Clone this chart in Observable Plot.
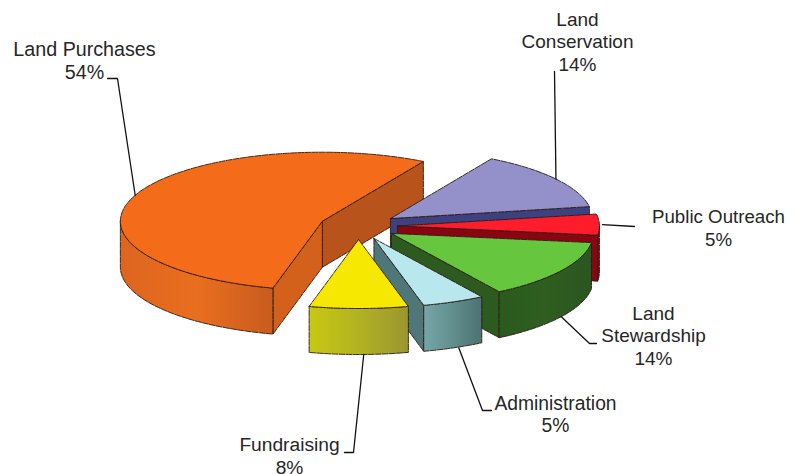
<!DOCTYPE html>
<html>
<head>
<meta charset="utf-8">
<style>html,body{margin:0;padding:0;background:#fff}svg{display:block}</style>
<script src="https://cdn.jsdelivr.net/npm/d3@7"></script>
<script src="https://cdn.jsdelivr.net/npm/@observablehq/plot@0.6"></script>
</head>
<body>
<div id="chart"></div>
<script>
// Data: listed from the top right, running counter-clockwise
const categories = ["Land Purchases", "Fundraising", "Administration", "Land Stewardship", "Public Outreach", "Land Conservation"];
const shares = [54.4, 7.9, 5.0, 13.9, 4.9, 13.9];
const labelLines = [["Land Purchases"], ["Fundraising"], ["Administration"], ["Land", "Stewardship"], ["Public Outreach"], ["Land", "Conservation"]];

// Styles
const topColors = ["#f46b19", "#f6e800", "#b9e7ee", "#66c73f", "#ff1c2b", "#9490c9"];
const cutColors = ["#b8531c", "#a8a820", "#4f7679", "#2c5a1f", "#8a0512", "#3d4180"];
const endCutColors = ["#d4611b", "#a8a820", "#4f7679", "#2c5a1f", "#8a0512", "#3d4180"];
const wallStops = [
  ["#dd651f", "#e96e1f", "#c85c1e"],
  ["#c8c812", "#b2b222", "#9a9630"],
  ["#76a6a6", "#628e8e", "#4c7272"],
  ["#2b5a1e", "#2f5e20", "#2a5620"],
  ["#8a0512", "#8a0512", "#e8707a"],
  ["#3d4180", "#3d4180", "#3d4180"]
];

// Pie geometry; back slices are painted first
const center = {x: 358, y: 225.7};
const radius = {x: 202, y: 69};
const explode = 0.193;
const depth = 46;
const startAngle = 60;
const paintOrder = [0, 5, 4, 3, 2, 1];

// Label layout
const labelX = [84, 289, 555, 653, 718, 577];
const labelY = [49, 444.5, 403, 313, 217, 19];
const labelSize = [19.7, 19.2, 19.3, 19, 18.7, 19];
const lineHeight = 22.8;
const leaderDx = [0, 5, 5, 0, 3, 0];
const leaderRest = [
  [[117, 78], [107, 78]],
  [[353, 452], [344, 452]],
  [[482, 410], [491, 410]],
  [[589, 343], [596, 343]],
  [[634, 226]],
  [[554, 71]]
];

const rad = d => d * Math.PI / 180;
const on = (c, t, h = 0) => ({x: c.x + radius.x * Math.cos(rad(t)), y: c.y - radius.y * Math.sin(rad(t)) + h});
const total = d3.sum(shares);
let cursor = startAngle;
const slices = shares.map((v, i) => {
  const a0 = cursor, a1 = cursor + v / total * 360;
  cursor = a1;
  const mid = (a0 + a1) / 2;
  const apex = {
    x: center.x + explode * radius.x * Math.cos(rad(mid)),
    y: center.y - explode * radius.y * Math.sin(rad(mid))
  };
  return {i, a0, a1, mid, apex};
});
const arc = (c, a, b, h = 0) => {
  const n = Math.max(2, Math.ceil(Math.abs(b - a) / 2));
  return d3.range(n + 1).map(k => on(c, a + (b - a) * k / n, h));
};
const down = (p, h) => ({x: p.x, y: p.y + h});
function frontRanges(a0, a1) {
  const out = [];
  for (const [s, e] of [[180, 360], [540, 720]]) {
    const a = Math.max(a0, s), b = Math.min(a1, e);
    if (b > a) out.push([a, b]);
  }
  return out;
}

const edge = {stroke: "#2a1c14", strokeWidth: 0.9, strokeDasharray: "6,1.2", strokeLinejoin: "round"};
const face = (pts, fill) => Plot.line([...pts, pts[0]], {x: "x", y: "y", fill, ...edge});

const marks = [
  () => {
    const defs = d3.create("svg:defs");
    wallStops.forEach((stops, i) => {
      const g = defs.append("linearGradient").attr("id", "wall" + i);
      stops.forEach((c, k) => g.append("stop").attr("offset", k / (stops.length - 1)).attr("stop-color", c));
    });
    return defs.node();
  }
];

for (const s of paintOrder.map(i => slices[i])) {
  const p0 = on(s.apex, s.a0), p1 = on(s.apex, s.a1);
  if (Math.cos(rad(s.a0)) > 0) marks.push(face([s.apex, p0, down(p0, depth), down(s.apex, depth)], cutColors[s.i]));
  if (Math.cos(rad(s.a1)) < 0) marks.push(face([s.apex, p1, down(p1, depth), down(s.apex, depth)], endCutColors[s.i]));
  for (const [a, b] of frontRanges(s.a0, s.a1)) {
    marks.push(face([...arc(s.apex, a, b), ...arc(s.apex, b, a, depth)], `url(#wall${s.i})`));
  }
  marks.push(face([s.apex, ...arc(s.apex, s.a0, s.a1)], topColors[s.i]));
}

// Leader lines start on the slice they label
slices.forEach(s => {
  const front = Math.sin(rad(s.mid)) < -0.2;
  const a = on(s.apex, s.mid, front ? depth : 0);
  marks.push(Plot.line(
    [{x: a.x + leaderDx[s.i], y: a.y}, ...leaderRest[s.i].map(([x, y]) => ({x, y}))],
    {x: "x", y: "y", stroke: "#111", strokeWidth: 1.3}
  ));
});

// Labels
categories.forEach((c, i) => {
  const rows = [...labelLines[i], `${Math.round(shares[i])}%`];
  marks.push(Plot.text(rows.map((text, k) => ({text, x: labelX[i], y: labelY[i] + k * lineHeight})), {
    x: "x", y: "y", text: "text", textAnchor: "middle", lineAnchor: "middle",
    fontFamily: "Liberation Sans", fontSize: labelSize[i], fill: "#262626"
  }));
});

const chart = Plot.plot({
  width: 800, height: 474, margin: 0,
  style: {background: "#fff"},
  x: {axis: null, domain: [0, 800], range: [0, 800]},
  y: {axis: null, domain: [0, 474], range: [0, 474]},
  marks
});
document.getElementById("chart").append(chart);
</script>
</body>
</html>
